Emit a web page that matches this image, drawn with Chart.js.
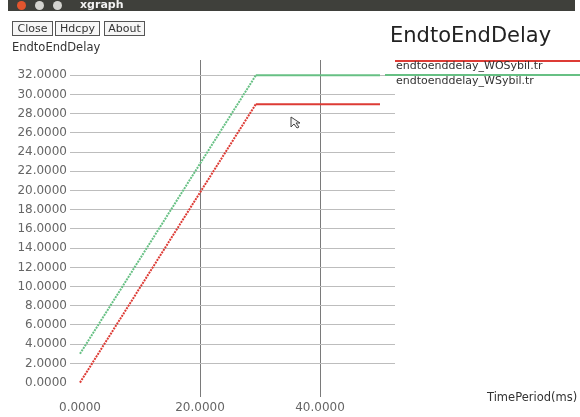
<!DOCTYPE html>
<html>
<head>
<meta charset="utf-8">
<script src="https://cdn.jsdelivr.net/npm/chart.js@4.4.1/dist/chart.umd.min.js"></script>
<style>
  body { margin: 0; background: #fff; font-family: "DejaVu Sans", sans-serif; }
  #wrap { position: absolute; left: 0; top: 0; width: 580px; height: 417px; overflow: hidden; }
  #chart { position: absolute; left: 0; top: 0; }
  .abs { position: absolute; white-space: nowrap; }
  .btn { position: absolute; top: 21px; height: 13px; border: 1px solid #555; background: #f6f6f6;
         font-size: 11px; line-height: 13px; color: #333; text-align: center; }
  .dot { position: absolute; top: 1px; width: 9px; height: 9px; border-radius: 50%; }
</style>
</head>
<body>
<div id="wrap">
  <canvas id="chart" width="580" height="417"></canvas>

  <!-- window chrome -->
  <div class="abs" style="left:8px;top:0;width:567px;height:11px;background:#3f403b;"></div>
  <div class="dot" style="left:17px;background:#e2552e;"></div>
  <div class="dot" style="left:35px;background:#d4d4d0;"></div>
  <div class="dot" style="left:53px;background:#d4d4d0;"></div>
  <div class="abs" style="left:80px;top:-2px;font-size:11px;font-weight:bold;color:#f2f2f2;">xgraph</div>
  <div class="btn" style="left:12px;width:39px;">Close</div>
  <div class="btn" style="left:55px;width:43px;">Hdcpy</div>
  <div class="btn" style="left:104px;width:39px;">About</div>

  <div class="abs" style="left:12px;top:40px;font-size:11.5px;color:#333;">EndtoEndDelay</div>
  <div class="abs" style="left:390px;top:23px;font-size:21px;color:#222;">EndtoEndDelay</div>

  <!-- legend -->
  <div class="abs" style="left:395px;top:60px;width:185px;height:1.5px;background:#dd3b35;"></div>
  <div class="abs" style="left:396px;top:59px;font-size:11px;color:#333;">endtoenddelay_WOSybil.tr</div>
  <div class="abs" style="left:385px;top:74px;width:195px;height:1.5px;background:#67c084;"></div>
  <div class="abs" style="left:396px;top:74px;font-size:11px;color:#333;">endtoenddelay_WSybil.tr</div>

  <div class="abs" style="left:487px;top:390px;font-size:11.5px;color:#333;">TimePeriod(ms)</div>

  <!-- mouse pointer left in the screenshot -->
  <svg class="abs" style="left:290px;top:116px;" width="14" height="14">
    <polygon points="1,1 1,11 4,8 7,12 9,11 6,7 10,7" fill="#f4f4f4" stroke="#444" stroke-width="1"/>
  </svg>
</div>

<script>
// values
var seriesNames = ["endtoenddelay_WOSybil.tr", "endtoenddelay_WSybil.tr"];
var timeWO = [0, 29.3, 50];
var delayWO = [0, 29, 29];
var timeW = [0, 29.3, 50];
var delayW = [3, 32, 32];

var xTicks = [0, 20, 40];
var yTicks = [0, 2, 4, 6, 8, 10, 12, 14, 16, 18, 20, 22, 24, 26, 28, 30, 32];

function pts(xs, ys) {
  return xs.map(function(x, i) { return {x: x, y: ys[i]}; });
}

// rising part is drawn dotted like xgraph's marker trail
var risingDash = function(ctx) { return ctx.p0DataIndex === 0 ? [2, 1] : undefined; };

var ctx = document.getElementById("chart").getContext("2d");

var chart = new Chart(ctx, {
  type: "line",
  data: {
    datasets: [{
      label: seriesNames[0],
      data: pts(timeWO, delayWO),
      borderColor: "#dd3b35",
      borderWidth: 2,
      pointRadius: 0,
      segment: { borderDash: risingDash }
    }, {
      label: seriesNames[1],
      data: pts(timeW, delayW),
      borderColor: "#67c084",
      borderWidth: 2,
      pointRadius: 0,
      segment: { borderDash: risingDash }
    }]
  },
  options: {
    responsive: false,
    animation: false,
    clip: false,
    layout: { padding: { left: 0, top: 60, right: 185, bottom: 0 } },
    plugins: { legend: { display: false }, tooltip: { enabled: false } },
    scales: {
      x: {
        type: "linear",
        min: 0,
        max: 52.5,
        afterBuildTicks: function(scale) { scale.ticks = xTicks.map(function(v) { return {value: v}; }); },
        afterFit: function(scale) { scale.height = 20; },
        border: { display: false },
        grid: {
          color: function(c) { return c.tick && c.tick.value === 0 ? "rgba(0,0,0,0)" : "#7a7a7a"; },
          drawTicks: false
        },
        ticks: {
          padding: 4,
          color: "#666",
          font: { family: "DejaVu Sans", size: 12 },
          maxRotation: 0,
          callback: function(v) { return Number(v).toFixed(4); }
        }
      },
      y: {
        min: -1.5,
        max: 33.6,
        afterBuildTicks: function(scale) { scale.ticks = yTicks.map(function(v) { return {value: v}; }); },
        afterFit: function(scale) { scale.width = 80; },
        border: { display: false },
        grid: {
          color: function(c) { return c.tick && c.tick.value === 0 ? "rgba(0,0,0,0)" : "#bdbdbd"; },
          tickLength: 10
        },
        ticks: {
          padding: 3,
          color: "#666",
          font: { family: "DejaVu Sans", size: 12 },
          callback: function(v) { return Number(v).toFixed(4); }
        }
      }
    }
  }
});
</script>
</body>
</html>
